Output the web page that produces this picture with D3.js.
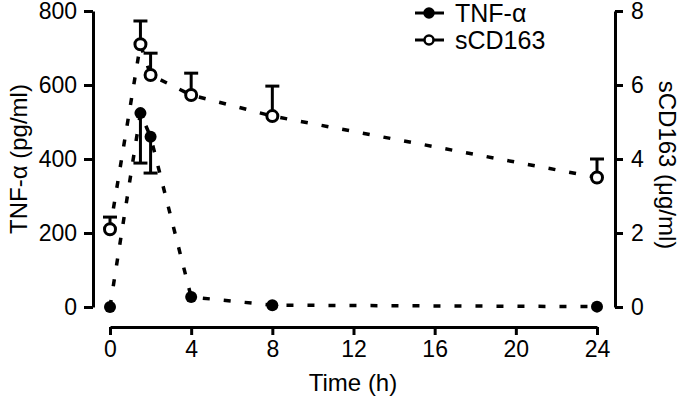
<!DOCTYPE html>
<html lang="en">
<head>
  <meta charset="UTF-8">
  <title>TNF-alpha and sCD163 over time</title>
  <script src="https://d3js.org/d3.v7.min.js"></script>
  <style>
    body {
      margin: 0;
      background: #fff;
    }
    svg text {
      font-family: "Liberation Sans", Arial, sans-serif;
      fill: #000;
    }
  </style>
</head>
<body>

  <svg id="chart" width="680" height="400"></svg>

  <script>
    // data
    const time = [0, 1.5, 2, 4, 8, 24];
    const tnf = [0, 524, 460, 27, 5, 1];
    const tnfErr = [0, 135, 98, 0, 0, 0];       // drawn downwards
    const scd = [2.1, 7.1, 6.27, 5.73, 5.16, 3.5];
    const scdErr = [0.33, 0.63, 0.59, 0.59, 0.81, 0.5];  // drawn upwards

    const xTicks = [0, 4, 8, 12, 16, 20, 24];
    const leftTicks = [0, 200, 400, 600, 800];
    const rightTicks = [0, 2, 4, 6, 8];

    const svg = d3.select("#chart");

    const x = d3.scaleLinear().domain([0, 24]).range([110, 597]);
    const yL = d3.scaleLinear().domain([0, 800]).range([307, 11]);
    const yR = d3.scaleLinear().domain([0, 8]).range([307, 11]);

    function styleAxis(g) {
      g.selectAll("path, line").attr("stroke", "#000").attr("stroke-width", 3);
      g.selectAll("text").style("font-size", "23px").attr("fill", "#000");
    }

    // axes
    svg.append("g")
      .attr("transform", "translate(0,327)")
      .call(d3.axisBottom(x).tickValues(xTicks).tickSize(8).tickSizeOuter(0).tickPadding(6))
      .call(styleAxis);

    svg.append("g")
      .attr("transform", "translate(93,0)")
      .call(d3.axisLeft(yL).tickValues(leftTicks).tickSize(9).tickSizeOuter(0).tickPadding(7))
      .call(styleAxis);

    svg.append("g")
      .attr("transform", "translate(615,0)")
      .call(d3.axisRight(yR).tickValues(rightTicks).tickSize(8).tickSizeOuter(0).tickPadding(8))
      .call(styleAxis);

    // axis titles
    svg.append("text")
      .attr("x", 353).attr("y", 391)
      .attr("text-anchor", "middle")
      .style("font-size", "24px")
      .text("Time (h)");

    svg.append("text")
      .attr("transform", "translate(27,159) rotate(-90)")
      .attr("text-anchor", "middle")
      .style("font-size", "24px")
      .text("TNF-α (pg/ml)");

    svg.append("text")
      .attr("transform", "translate(659,165) rotate(90)")
      .attr("text-anchor", "middle")
      .style("font-size", "24px")
      .text("sCD163 (μg/ml)");

    const tnfData = time.map((t, i) => ({ t: t, v: tnf[i], e: tnfErr[i] }));
    const scdData = time.map((t, i) => ({ t: t, v: scd[i], e: scdErr[i] }));

    // dashed lines
    const lineL = d3.line().x(d => x(d.t)).y(d => yL(d.v));
    const lineR = d3.line().x(d => x(d.t)).y(d => yR(d.v));

    svg.append("path")
      .datum(tnfData)
      .attr("d", lineL)
      .attr("fill", "none")
      .attr("stroke", "#000")
      .attr("stroke-width", 3.5)
      .attr("stroke-dasharray", "7,14");

    svg.append("path")
      .datum(scdData)
      .attr("d", lineR)
      .attr("fill", "none")
      .attr("stroke", "#000")
      .attr("stroke-width", 3.5)
      .attr("stroke-dasharray", "7,14");

    // error bars
    function errorBars(data, y, dir) {
      const g = svg.append("g").attr("stroke", "#000").attr("stroke-width", 3);
      const withErr = data.filter(d => d.e > 0);
      g.selectAll("line.bar")
        .data(withErr)
        .enter().append("line")
        .attr("x1", d => x(d.t)).attr("x2", d => x(d.t))
        .attr("y1", d => y(d.v))
        .attr("y2", d => y(d.v + dir * d.e));
      g.selectAll("line.cap")
        .data(withErr)
        .enter().append("line")
        .attr("x1", d => x(d.t) - 7).attr("x2", d => x(d.t) + 7)
        .attr("y1", d => y(d.v + dir * d.e))
        .attr("y2", d => y(d.v + dir * d.e));
    }
    errorBars(tnfData, yL, -1);
    errorBars(scdData, yR, 1);

    // markers
    svg.selectAll("circle.tnf")
      .data(tnfData)
      .enter().append("circle")
      .attr("class", "tnf")
      .attr("cx", d => x(d.t))
      .attr("cy", d => yL(d.v))
      .attr("r", 6)
      .attr("fill", "#000");

    svg.selectAll("circle.scd")
      .data(scdData)
      .enter().append("circle")
      .attr("class", "scd")
      .attr("cx", d => x(d.t))
      .attr("cy", d => yR(d.v))
      .attr("r", 5.5)
      .attr("fill", "#fff")
      .attr("stroke", "#000")
      .attr("stroke-width", 3);

    // legend
    const legend = [
      { label: "TNF-α", fill: "#000", y: 13 },
      { label: "sCD163", fill: "#fff", y: 40 }
    ];
    const lg = svg.selectAll("g.legend")
      .data(legend)
      .enter().append("g")
      .attr("class", "legend")
      .attr("transform", d => `translate(0,${d.y})`);

    lg.append("line")
      .attr("x1", 415).attr("x2", 444)
      .attr("stroke", "#000").attr("stroke-width", 3);
    lg.append("circle")
      .attr("cx", 429).attr("r", 4.5)
      .attr("fill", d => d.fill)
      .attr("stroke", "#000").attr("stroke-width", 2.5);
    lg.append("text")
      .attr("x", 455).attr("dy", "0.35em")
      .style("font-size", "25px")
      .text(d => d.label);
  </script>
</body>
</html>
